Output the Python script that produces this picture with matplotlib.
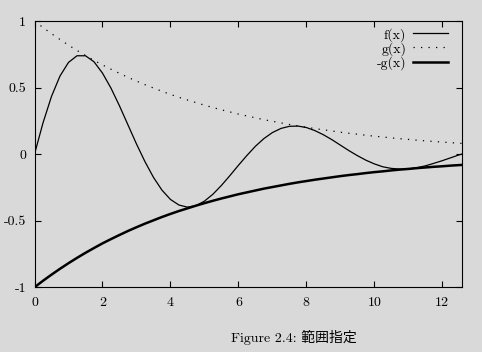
import numpy as np
import matplotlib.pyplot as plt

# values (x runs 0 .. 4*pi)
xVals = [0.0, 0.25, 0.5, 0.75, 1.0, 1.25, 1.5, 1.75, 2.0, 2.25, 2.5, 2.75,
         3.0, 3.25, 3.5, 3.75, 4.0, 4.25, 4.5, 4.75, 5.0, 5.25, 5.5, 5.75,
         6.0, 6.25, 6.5, 6.75, 7.0, 7.25, 7.5, 7.75, 8.0, 8.25, 8.5, 8.75,
         9.0, 9.25, 9.5, 9.75, 10.0, 10.25, 10.5, 10.75, 11.0, 11.25, 11.5, 11.75,
         12.0, 12.25, 12.5, 12.566]

fVals = [0.0, 0.235, 0.434, 0.587, 0.689, 0.739, 0.739, 0.694, 0.609, 0.496, 0.363, 0.220,
         0.077, -0.056, -0.174, -0.270, -0.340, -0.382, -0.398, -0.387, -0.353, -0.301, -0.235, -0.161,
         -0.084, -0.010, 0.059, 0.117, 0.162, 0.193, 0.209, 0.211, 0.200, 0.177, 0.146, 0.109,
         0.068, 0.027, -0.011, -0.045, -0.073, -0.095, -0.107, -0.112, -0.111, -0.102, -0.088, -0.069,
         -0.049, -0.027, -0.005, 0.0]

gVals = [1.000, 0.951, 0.905, 0.861, 0.819, 0.779, 0.741, 0.705, 0.670, 0.638, 0.607, 0.577,
         0.549, 0.522, 0.497, 0.472, 0.449, 0.427, 0.407, 0.387, 0.368, 0.350, 0.333, 0.317,
         0.301, 0.287, 0.273, 0.259, 0.247, 0.235, 0.223, 0.212, 0.202, 0.192, 0.183, 0.174,
         0.165, 0.157, 0.150, 0.142, 0.135, 0.129, 0.122, 0.116, 0.111, 0.105, 0.100, 0.095,
         0.091, 0.086, 0.082, 0.081]

negGVals = [-1.000, -0.951, -0.905, -0.861, -0.819, -0.779, -0.741, -0.705, -0.670, -0.638, -0.607, -0.577,
            -0.549, -0.522, -0.497, -0.472, -0.449, -0.427, -0.407, -0.387, -0.368, -0.350, -0.333, -0.317,
            -0.301, -0.287, -0.273, -0.259, -0.247, -0.235, -0.223, -0.212, -0.202, -0.192, -0.183, -0.174,
            -0.165, -0.157, -0.150, -0.142, -0.135, -0.129, -0.122, -0.116, -0.111, -0.105, -0.100, -0.095,
            -0.091, -0.086, -0.082, -0.081]

xTicks = [0, 2, 4, 6, 8, 10, 12]
xTickLabels = ['0', '2', '4', '6', '8', '10', '12']
yTicks = [-1, -0.5, 0, 0.5, 1]
yTickLabels = ['-1', '-0.5', '0', '0.5', '1']
seriesLabels = ['f(x)', 'g(x)', '-g(x)']
caption = 'Figure 2.4: 範囲指定'

bgColor = '#d9d9d9'
plt.rcParams['font.family'] = ['cmr10', 'Noto Sans CJK JP', 'DejaVu Serif']
plt.rcParams['font.size'] = 10

fig = plt.figure(figsize=(4.82, 3.52), dpi=100, facecolor=bgColor)
ax = fig.add_axes([0.0716, 0.1838, 0.8859, 0.7565], facecolor=bgColor)

ax.plot(xVals, fVals, color='black', lw=0.9, label=seriesLabels[0])
ax.plot(xVals, gVals, color='black', lw=0.9, linestyle=(0, (1, 5)), label=seriesLabels[1])
ax.plot(xVals, negGVals, color='black', lw=1.8, label=seriesLabels[2])

ax.set_xlim(0, 12.566)
ax.set_ylim(-1, 1)
ax.set_xticks(xTicks)
ax.set_xticklabels(xTickLabels)
ax.set_yticks(yTicks)
ax.set_yticklabels(yTickLabels)

ax.tick_params(direction='in', length=4, width=0.8, top=True, right=True, color='black')
ax.tick_params(axis='x', pad=7)
ax.tick_params(axis='y', pad=6)
for sp in ax.spines.values():
	sp.set_linewidth(0.8)

# legend sits tight in the top right corner, labels before the line samples
leg = ax.legend(loc='upper right', bbox_to_anchor=(0.981, 0.995), frameon=False,
                markerfirst=False, handlelength=2.5, handletextpad=0.5,
                labelspacing=0.02, borderaxespad=0.0, fontsize=10)

fig.text(0.61, 0.04, caption, ha='center', va='center', fontsize=10)

fig.savefig('out.png', dpi=100, facecolor=bgColor)
